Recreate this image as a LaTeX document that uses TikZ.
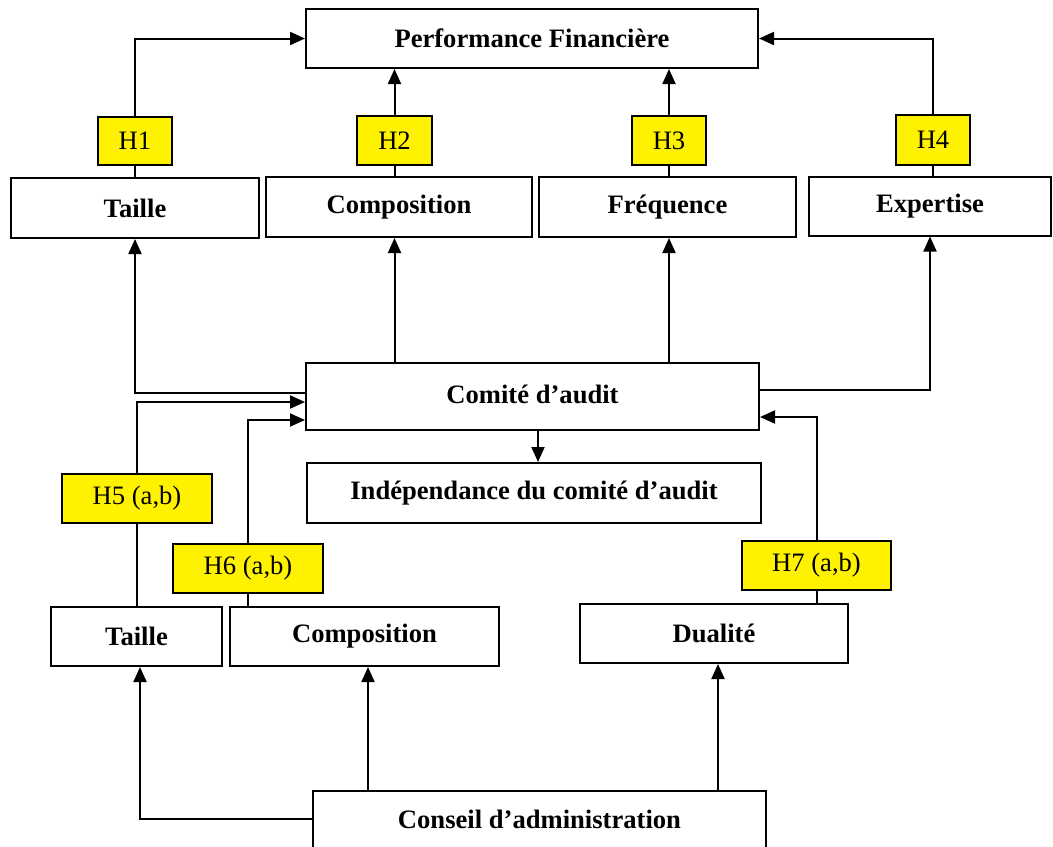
\documentclass[tikz,border=0pt]{standalone}
\usepackage{fontspec}
\setmainfont{Liberation Serif}
\usetikzlibrary{arrows.meta}
\newcommand\fsz{\fontsize{13.3}{16}\selectfont}
\tikzset{
  box/.style={draw, line width=1pt, font=\bfseries\fsz, inner sep=0pt, align=center},
  hyp/.style={draw, fill=yellow, line width=1pt, font=\fsz, inner sep=0pt},
  ln/.style={draw, line width=1pt},
  arr/.style={draw, line width=1pt, -{Triangle[length=7.5pt,width=6.5pt]}}
}
\begin{document}
\begin{tikzpicture}[x=0.5pt, y=-0.5pt]
\clip (0,0) rectangle (1053,846);
% boxes
\node[box, minimum width=226pt, minimum height=29.5pt] (perf) at (532,38.5) {Performance Financière};
\node[box, minimum width=124pt, minimum height=30pt] (t1) at (135,208) {Taille};
\node[box, minimum width=133pt, minimum height=30pt] (c1) at (399,207) {Composition};
\node[box, minimum width=128.5pt, minimum height=30pt] (f1) at (667.5,207) {Fréquence};
\node[box, minimum width=121pt, minimum height=29.5pt] (e1) at (930,206) {Expertise};
\node[hyp, minimum width=37pt, minimum height=24pt] (h1) at (135,141) {H1};
\node[hyp, minimum width=37.5pt, minimum height=24.5pt] (h2) at (394.5,140.5) {H2};
\node[hyp, minimum width=37pt, minimum height=24.5pt] (h3) at (669,140.5) {H3};
\node[hyp, minimum width=37pt, minimum height=25pt] (h4) at (933,140) {H4};
\node[box, minimum width=226.5pt, minimum height=33.5pt] (comite) at (532.5,396.5) {\raisebox{2pt}{Comité d’audit}};
\node[box, minimum width=227pt, minimum height=30pt] (indep) at (534,493) {Indépendance du comité d’audit};
\node[box, minimum width=85.5pt, minimum height=29.5pt] (t2) at (136.5,636.5) {Taille};
\node[box, minimum width=134.5pt, minimum height=29.5pt] (c2) at (364.5,636.5) {Composition};
\node[box, minimum width=134pt, minimum height=29.5pt] (d2) at (714,633.5) {Dualité};
\node[hyp, minimum width=75pt, minimum height=24.5pt] (h5) at (137,498.5) {H5 (a,b)};
\node[hyp, minimum width=75pt, minimum height=24.5pt] (h6) at (248,568.5) {H6 (a,b)};
\node[hyp, minimum width=74.5pt, minimum height=24.5pt] (h7) at (816.5,565.5) {H7 (a,b)};
\node[box, minimum width=226.5pt, minimum height=30pt] (conseil) at (539.5,821) {\raisebox{2pt}{Conseil d’administration}};
% connectors, upper part
\draw[ln] (t1.north) -- (h1.south);
\draw[arr] (h1.north) |- (perf.west);
\draw[ln] (c1.north -| h2.south) -- (h2.south);
\draw[arr] (h2.north) -- (h2.north |- perf.south);
\draw[ln] (f1.north -| h3.south) -- (h3.south);
\draw[arr] (h3.north) -- (h3.north |- perf.south);
\draw[ln] (e1.north -| h4.south) -- (h4.south);
\draw[arr] (h4.north) |- (perf.east);
% from the audit committee
\draw[arr] (comite.west |- 0,393) -| (t1.south);
\draw[arr] (comite.north -| h2.south) -- (c1.south -| h2.south);
\draw[arr] (comite.north -| h3.south) -- (f1.south -| h3.south);
\draw[arr] (comite.east |- 0,390) -| (e1.south);
\draw[arr] (comite.south -| 538,0) -- (indep.north -| 538,0);
% board characteristics to the committee
\draw[ln] (t2.north -| h5.south) -- (h5.south);
\draw[arr] (h5.north) |- (comite.west |- 0,402);
\draw[ln] (c2.north -| h6.south) -- (h6.south);
\draw[arr] (h6.north) |- (comite.west |- 0,420);
\draw[ln] (d2.north -| h7.south) -- (h7.south);
\draw[arr] (h7.north) |- (comite.east |- 0,417);
% from the board
\draw[arr] (conseil.west |- 0,819) -| (t2.south -| 140,0);
\draw[arr] (conseil.north -| 368,0) -- (c2.south -| 368,0);
\draw[arr] (conseil.north -| 718,0) -- (d2.south -| 718,0);
\end{tikzpicture}
\end{document}
